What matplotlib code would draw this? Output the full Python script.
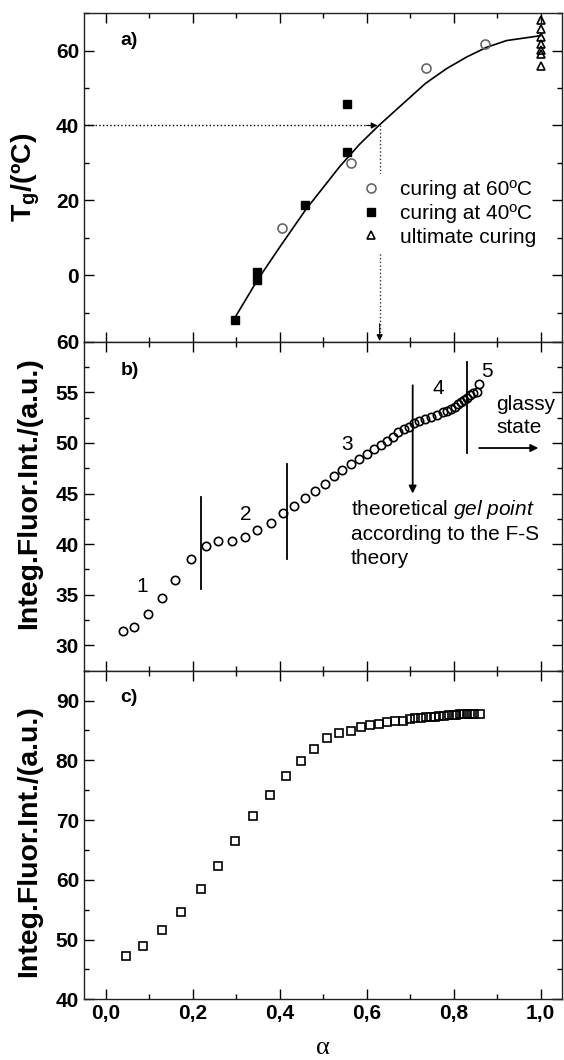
import matplotlib
matplotlib.use("Agg")
import matplotlib.pyplot as plt
from matplotlib.ticker import MultipleLocator, FuncFormatter

plt.rcParams['font.family'] = ['Liberation Sans', 'DejaVu Sans']
plt.rcParams['mathtext.fontset'] = 'custom'
plt.rcParams['mathtext.rm'] = 'Liberation Sans'
plt.rcParams['mathtext.it'] = 'Liberation Sans:italic'
plt.rcParams['mathtext.bf'] = 'Liberation Sans:bold'

# ---- panel a: Tg vs conversion ----
fit_alpha = [0.298, 0.348, 0.402, 0.460, 0.538, 0.584, 0.629, 0.692, 0.736,
             0.784, 0.830, 0.876, 0.922, 1.0]
fit_tg = [-11.2, -1.5, 7.8, 17.5, 29.0, 35.0, 40.1, 46.7, 51.3,
          55.2, 58.3, 60.9, 62.7, 64.0]

cure60_alpha = [0.406, 0.565, 0.737, 0.872]
cure60_tg = [12.7, 29.9, 55.3, 61.8]

cure40_alpha = [0.298, 0.349, 0.349, 0.458, 0.556, 0.556]
cure40_tg = [-11.9, 0.9, -1.2, 18.7, 45.7, 32.9]

ultimate_alpha = [1.0, 1.0, 1.0, 1.0, 1.0, 1.0, 1.0]
ultimate_tg = [68.2, 65.8, 63.7, 61.9, 60.3, 59.2, 56.0]

tg_ref = 40.0
alpha_ref = 0.630

# ---- panel b: integrated fluorescence (probe 1) ----
b_alpha = [0.040, 0.066, 0.097, 0.129, 0.160, 0.195, 0.230, 0.258, 0.290,
           0.320, 0.349, 0.381, 0.407, 0.433, 0.459, 0.481, 0.504, 0.524,
           0.543, 0.564, 0.582, 0.600, 0.618, 0.633, 0.646, 0.661, 0.673,
           0.685, 0.698, 0.708, 0.720, 0.734, 0.749, 0.763, 0.776, 0.785,
           0.795, 0.803, 0.810, 0.817, 0.823, 0.830, 0.837, 0.844, 0.853,
           0.859]
b_int = [31.4, 31.8, 33.1, 34.7, 36.5, 38.5, 39.8, 40.3, 40.3,
         40.7, 41.4, 42.1, 43.1, 43.8, 44.6, 45.3, 45.95, 46.7,
         47.3, 47.9, 48.4, 48.9, 49.4, 49.8, 50.2, 50.6, 51.1,
         51.4, 51.6, 51.95, 52.2, 52.4, 52.6, 52.8, 53.1, 53.2,
         53.4, 53.6, 53.8, 54.05, 54.2, 54.45, 54.7, 54.9, 55.05,
         55.8]

# region separators: alpha, y from, y to
sep_alpha = [0.218, 0.416, 0.832]
sep_lo = [35.6, 38.5, 49.0]
sep_hi = [44.7, 47.9, 58.0]

region_labels = ['1', '2', '3', '4', '5']
region_alpha = [0.085, 0.323, 0.555, 0.764, 0.877]
region_int = [35.8, 42.9, 49.8, 55.4, 57.1]

gel_alpha = 0.706
gel_from, gel_to = 55.7, 45.0
glassy_from, glassy_to, glassy_y = 0.859, 0.995, 49.5

# ---- panel c: integrated fluorescence (probe 2) ----
c_alpha = [0.046, 0.086, 0.129, 0.172, 0.218, 0.258, 0.297, 0.338, 0.378,
           0.415, 0.450, 0.480, 0.509, 0.536, 0.563, 0.586, 0.608, 0.629,
           0.648, 0.666, 0.683, 0.699, 0.712, 0.726, 0.737, 0.747, 0.757,
           0.767, 0.778, 0.789, 0.800, 0.806, 0.815, 0.823, 0.830, 0.837,
           0.848, 0.861]
c_int = [47.2, 48.9, 51.6, 54.6, 58.4, 62.35, 66.5, 70.7, 74.2,
         77.3, 79.8, 81.85, 83.75, 84.6, 84.97, 85.5, 85.9, 86.15,
         86.4, 86.5, 86.5, 86.9, 87.0, 87.1, 87.2, 87.3, 87.3,
         87.4, 87.45, 87.5, 87.6, 87.65, 87.7, 87.7, 87.75, 87.75,
         87.7, 87.8]


fig = plt.figure(figsize=(5.64, 10.6), dpi=100)
left, width = 0.1489, 0.848
ax_a = fig.add_axes([left, 0.6776, width, 0.3099])
ax_b = fig.add_axes([left, 0.3673, width, 0.3103])
ax_c = fig.add_axes([left, 0.0573, width, 0.3100])

comma = FuncFormatter(lambda v, p: f"{v:.1f}".replace('.', ','))
ylab_font = dict(fontsize=20.5, fontweight='bold')

for ax in (ax_a, ax_b, ax_c):
    ax.set_xlim(-0.05, 1.05)
    ax.xaxis.set_major_locator(MultipleLocator(0.2))
    ax.xaxis.set_minor_locator(MultipleLocator(0.1))
    ax.tick_params(which='both', direction='in', top=True, right=True,
                   labelsize=15, width=1.0)
    ax.tick_params(which='major', length=7)
    ax.tick_params(which='minor', length=3.5)
    for sp in ax.spines.values():
        sp.set_linewidth(1.0)
        sp.set_color('#222222')

for ax in (ax_a, ax_b):
    ax.tick_params(labelbottom=False)

# panel a
ax_a.set_ylim(-17.8, 70)
ax_a.yaxis.set_major_locator(MultipleLocator(20))
ax_a.yaxis.set_minor_locator(MultipleLocator(10))
ax_a.plot(fit_alpha, fit_tg, color='k', lw=1.2, zorder=2)
ax_a.plot([-0.05, alpha_ref - 0.01], [tg_ref, tg_ref], ls=':', color='k', lw=1.0)
ax_a.annotate('', xy=(alpha_ref - 0.005, tg_ref), xytext=(alpha_ref - 0.03, tg_ref),
              arrowprops=dict(arrowstyle='-|>', color='k', lw=0.8,
                              mutation_scale=9, shrinkA=0, shrinkB=0))
ax_a.plot([alpha_ref, alpha_ref], [tg_ref, -15.5], ls=':', color='#333333', lw=1.0)
ax_a.annotate('', xy=(alpha_ref, -17.6), xytext=(alpha_ref, -13),
              arrowprops=dict(arrowstyle='-|>', color='k', lw=0.8,
                              mutation_scale=9, shrinkA=0, shrinkB=0))
ax_a.plot(cure60_alpha, cure60_tg, 'o', ms=6.5, mfc='none', mec='#666666',
          mew=1.2, ls='none', label='curing at 60ºC', zorder=3)
ax_a.plot(cure40_alpha, cure40_tg, 's', ms=6, color='k', ls='none',
          label='curing at 40ºC', zorder=3)
ax_a.plot(ultimate_alpha, ultimate_tg, '^', ms=6, mfc='none', mec='k',
          mew=1.2, ls='none', label='ultimate curing', zorder=3, clip_on=False)
leg = ax_a.legend(loc='upper left', bbox_to_anchor=(0.565, 0.51), fontsize=15,
                  frameon=True, facecolor='white', edgecolor='none', framealpha=1,
                  handlelength=1.0, handletextpad=0.9, labelspacing=0.22,
                  borderpad=0.3, borderaxespad=0)
leg.set_zorder(5)
ax_a.set_ylabel('T$_\\mathbf{g}$/(ºC)', **ylab_font)
ax_a.yaxis.set_label_coords(-0.088, 0.5)
ax_a.text(0.076, 0.918, 'a)', transform=ax_a.transAxes, fontsize=14,
          fontweight='bold', va='center')

# panel b
ax_b.set_ylim(27.5, 60)
ax_b.yaxis.set_major_locator(MultipleLocator(5))
ax_b.yaxis.set_minor_locator(MultipleLocator(2.5))
ax_b.plot(b_alpha, b_int, 'o', ms=6, mfc='none', mec='k', mew=1.2, ls='none')
for xa, lo, hi in zip(sep_alpha, sep_lo, sep_hi):
    ax_b.plot([xa, xa], [lo, hi], color='k', lw=1.3)
ax_b.annotate('', xy=(gel_alpha, gel_to), xytext=(gel_alpha, gel_from),
              arrowprops=dict(arrowstyle='-|>', color='k', lw=1.3,
                              mutation_scale=11, shrinkA=0, shrinkB=0))
ax_b.annotate('', xy=(glassy_to, glassy_y), xytext=(glassy_from, glassy_y),
              arrowprops=dict(arrowstyle='-|>', color='k', lw=1.3,
                              mutation_scale=11, shrinkA=0, shrinkB=0))
for lab, xa, ya in zip(region_labels, region_alpha, region_int):
    ax_b.text(xa, ya, lab, fontsize=15, ha='center', va='center')
ax_b.text(0.563, 43.4, 'theoretical $\\mathit{gel\\ point}$', fontsize=15, va='center')
ax_b.text(0.563, 41.0, 'according to the F-S', fontsize=15, va='center')
ax_b.text(0.563, 38.6, 'theory', fontsize=15, va='center')
ax_b.text(0.898, 53.8, 'glassy', fontsize=15, va='center')
ax_b.text(0.898, 51.5, 'state', fontsize=15, va='center')
ax_b.set_ylabel('Integ.Fluor.Int./(a.u.)', **ylab_font)
ax_b.yaxis.set_label_coords(-0.088, 0.54)
ax_b.text(0.076, 0.914, 'b)', transform=ax_b.transAxes, fontsize=14,
          fontweight='bold', va='center')

# panel c
ax_c.set_ylim(40, 95)
ax_c.yaxis.set_major_locator(MultipleLocator(10))
ax_c.yaxis.set_minor_locator(MultipleLocator(5))
ax_c.xaxis.set_major_formatter(comma)
ax_c.plot(c_alpha, c_int, 's', ms=6, mfc='none', mec='k', mew=1.2, ls='none')
ax_c.set_ylabel('Integ.Fluor.Int./(a.u.)', **ylab_font)
ax_c.yaxis.set_label_coords(-0.088, 0.48)
ax_c.set_xlabel('α', fontsize=19, family='Liberation Serif', labelpad=10)
ax_c.text(0.076, 0.918, 'c)', transform=ax_c.transAxes, fontsize=14,
          fontweight='bold', va='center')

for ax in (ax_a, ax_b, ax_c):
    for lab in ax.get_yticklabels() + ax.get_xticklabels():
        lab.set_fontweight('bold')

fig.savefig('out.png', dpi=100)
